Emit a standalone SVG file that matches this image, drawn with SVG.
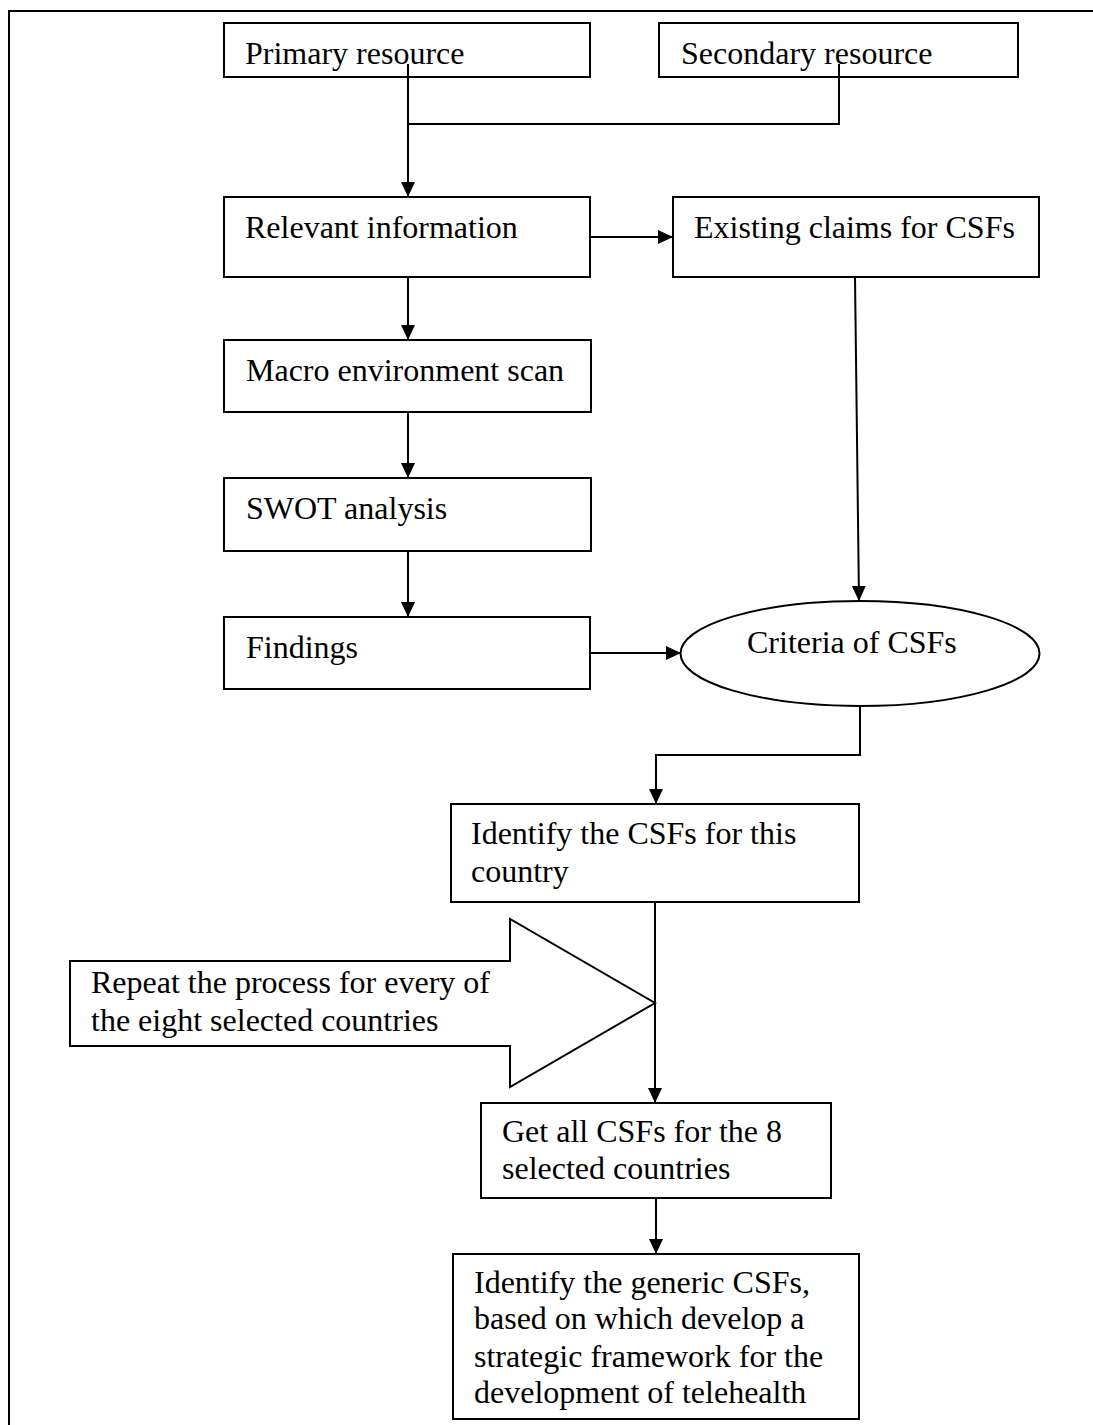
<svg xmlns="http://www.w3.org/2000/svg" width="1093" height="1425" viewBox="0 0 1093 1425">
<style>
.box{fill:#fff;stroke:#000;stroke-width:2}
.t{font-family:"Liberation Serif","Times New Roman",serif;font-size:32px;fill:#000}
.c{fill:none;stroke:#000;stroke-width:2}
</style>
<defs>
<marker id="ah" markerUnits="userSpaceOnUse" markerWidth="15" markerHeight="14" refX="15" refY="7" orient="auto">
<path d="M0,0 L15,7 L0,14 z" fill="#000"/>
</marker>
</defs>
<rect x="0" y="0" width="1093" height="1425" fill="#fff"/>
<rect x="9" y="11" width="1100" height="1440" fill="none" stroke="#000" stroke-width="2"/>
<g id="connectors">
<line class="c" x1="408" y1="64" x2="408" y2="197" marker-end="url(#ah)"/>
<polyline class="c" points="839,64 839,124 408,124"/>
<line class="c" x1="590" y1="237" x2="673" y2="237" marker-end="url(#ah)"/>
<line class="c" x1="408" y1="277" x2="408" y2="340" marker-end="url(#ah)"/>
<line class="c" x1="408" y1="412" x2="408" y2="478" marker-end="url(#ah)"/>
<line class="c" x1="408" y1="551" x2="408" y2="617" marker-end="url(#ah)"/>
<line class="c" x1="855" y1="277" x2="859" y2="601" marker-end="url(#ah)"/>
<line class="c" x1="590" y1="653" x2="681" y2="653" marker-end="url(#ah)"/>
<polyline class="c" points="860,706 860,755 656,755 656,804" marker-end="url(#ah)"/>
<line class="c" x1="655" y1="902" x2="655" y2="1103" marker-end="url(#ah)"/>
<line class="c" x1="656" y1="1198" x2="656" y2="1254" marker-end="url(#ah)"/>
</g>
<g id="primary">
<rect class="box" x="224" y="23" width="366" height="54"/>
<text class="t" x="245" y="64">Primary resource</text>
</g>
<g id="secondary">
<rect class="box" x="659" y="23" width="359" height="54"/>
<text class="t" x="681" y="64">Secondary resource</text>
</g>
<line class="c" x1="408" y1="64" x2="408" y2="77"/>
<line class="c" x1="839" y1="64" x2="839" y2="77"/>
<g id="relevant">
<rect class="box" x="224" y="197" width="366" height="80"/>
<text class="t" x="245" y="238">Relevant information</text>
</g>
<g id="existing">
<rect class="box" x="673" y="197" width="366" height="80"/>
<text class="t" x="694" y="238">Existing claims for CSFs</text>
</g>
<g id="macro">
<rect class="box" x="224" y="340" width="367" height="72"/>
<text class="t" x="246" y="381">Macro environment scan</text>
</g>
<g id="swot">
<rect class="box" x="224" y="478" width="367" height="73"/>
<text class="t" x="246" y="519">SWOT analysis</text>
</g>
<g id="findings">
<rect class="box" x="224" y="617" width="366" height="72"/>
<text class="t" x="246" y="658">Findings</text>
</g>
<g id="criteria">
<ellipse class="box" cx="860" cy="653.5" rx="179.5" ry="52.5"/>
<text class="t" x="747" y="653">Criteria of CSFs</text>
</g>
<g id="identify">
<rect class="box" x="451" y="804" width="408" height="98"/>
<text class="t" x="471" y="844">Identify the CSFs for this</text>
<text class="t" x="471" y="882">country</text>
</g>
<g id="repeat">
<polygon class="box" points="70,961 510,961 510,919 655,1003 510,1087 510,1046 70,1046"/>
<text class="t" x="91" y="993">Repeat the process for every of</text>
<text class="t" x="91" y="1031">the eight selected countries</text>
</g>
<g id="getall">
<rect class="box" x="481" y="1103" width="350" height="95"/>
<text class="t" x="502" y="1142">Get all CSFs for the 8</text>
<text class="t" x="502" y="1179">selected countries</text>
</g>
<g id="generic">
<rect class="box" x="453" y="1254" width="406" height="165"/>
<text class="t" x="474" y="1293">Identify the generic CSFs,</text>
<text class="t" x="474" y="1329">based on which develop a</text>
<text class="t" x="474" y="1367">strategic framework for the</text>
<text class="t" x="474" y="1403">development of telehealth</text>
</g>
</svg>
